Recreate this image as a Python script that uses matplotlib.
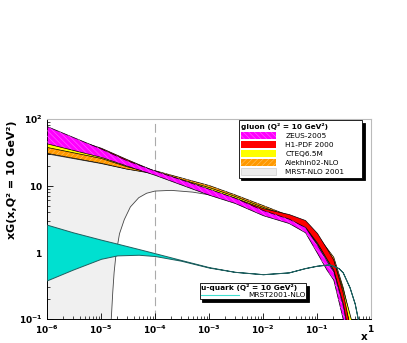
import numpy as np
import matplotlib.pyplot as plt
from matplotlib.patches import Patch
from matplotlib.lines import Line2D
from matplotlib.ticker import NullFormatter

plt.rcParams['font.family'] = 'DejaVu Sans'
plt.rcParams['mathtext.fontset'] = 'dejavusans'
plt.rcParams['hatch.linewidth'] = 0.35

# gluon bands (x, lower, upper)
xg = [1e-6, 1e-5, 3e-5, 1e-4, 1e-3, 3e-3, 1e-2, 3e-2, 6e-2, 0.1, 0.15, 0.2, 0.3, 0.4, 0.5, 0.7]
zeus_lo = [43, 27, 20, 14.5, 7.3, 5.5, 3.6, 2.75, 2.0, 0.98, 0.55, 0.39, 0.1, 0.025, 0.006, 0.001]
zeus_hi = [78, 36, 24, 16.8, 9.0, 6.6, 4.3, 3.2, 2.4, 1.3, 0.75, 0.52, 0.16, 0.045, 0.012, 0.002]
h1_lo = [48, 28, 21, 15.0, 7.5, 5.7, 3.8, 3.0, 2.4, 1.4, 0.8, 0.55, 0.17, 0.05, 0.015, 0.002]
h1_hi = [68, 37, 25, 16.6, 8.8, 6.6, 4.6, 3.75, 3.05, 1.95, 1.15, 0.78, 0.25, 0.08, 0.03, 0.004]
cteq_lo = [38, 26, 19.5, 15.3, 8.4, 6.2, 4.2, 3.1, 2.4, 1.35, 0.85, 0.6, 0.2, 0.085, 0.04, 0.005]
cteq_hi = [44, 29, 21.5, 16.3, 9.5, 7.0, 4.8, 3.5, 2.7, 1.6, 1.05, 0.75, 0.28, 0.12, 0.06, 0.008]
alek_lo = [31, 22, 18, 15.2, 8.9, 6.5, 4.4, 3.1, 2.4, 1.4, 0.85, 0.6, 0.2, 0.07, 0.025, 0.003]
alek_hi = [39, 27, 20.5, 17.0, 10.2, 7.4, 5.1, 3.6, 2.9, 1.8, 1.17, 0.86, 0.3, 0.11, 0.045, 0.005]
mrst_hi = [30, 21.5, 17.8, 15.5, 9.2, 6.9, 4.8, 3.4, 2.7, 1.6, 1.0, 0.75, 0.25, 0.09, 0.035, 0.003]

# MRST gluon lower edge has its own x points
xm = [1e-6, 1.45e-5, 1.55e-5, 1.65e-5, 1.75e-5, 1.9e-5, 2.2e-5, 2.7e-5, 3.5e-5, 5e-5, 7e-5,
      1e-4, 2e-4, 5e-4, 1e-3, 3e-3, 1e-2, 3e-2, 6e-2, 0.1, 0.15, 0.2, 0.3, 0.4, 0.5, 0.7]
mrst_lo = [0.01, 0.01, 0.1, 0.25, 0.5, 0.95, 1.9, 3.1, 4.8, 6.6, 7.7,
           8.3, 8.5, 8.0, 7.3, 6.0, 4.1, 2.95, 2.2, 1.3, 0.8, 0.55, 0.2, 0.07, 0.025, 0.002]

# u-quark band
xu = [1e-6, 3e-6, 1e-5, 2e-5, 5e-5, 1e-4, 3e-4, 1e-3, 3e-3, 1e-2, 3e-2, 6e-2, 0.1, 0.17,
      0.25, 0.3, 0.4, 0.5, 0.57, 0.65]
u_hi = [2.6, 2.0, 1.55, 1.35, 1.12, 0.97, 0.77, 0.6, 0.51, 0.47, 0.5, 0.58, 0.63, 0.66,
        0.58, 0.5, 0.3, 0.17, 0.1, 0.05]
u_lo = [0.38, 0.55, 0.8, 0.9, 0.92, 0.88, 0.75, 0.59, 0.51, 0.47, 0.5, 0.58, 0.63, 0.66,
        0.58, 0.5, 0.3, 0.17, 0.1, 0.05]

xticks = [1e-6, 1e-5, 1e-4, 1e-3, 1e-2, 1e-1, 1]
xlabels = [r'$\mathbf{10^{-6}}$', r'$\mathbf{10^{-5}}$', r'$\mathbf{10^{-4}}$', r'$\mathbf{10^{-3}}$',
           r'$\mathbf{10^{-2}}$', r'$\mathbf{10^{-1}}$', r'$\mathbf{1}$']
yticks = [0.1, 1, 10, 100]
ylabels = [r'$\mathbf{10^{-1}}$', r'$\mathbf{1}$', r'$\mathbf{10}$', r'$\mathbf{10^{2}}$']

gluon_names = ['ZEUS-2005', 'H1-PDF 2000', 'CTEQ6.5M', 'Alekhin02-NLO', 'MRST-NLO 2001']

fig = plt.figure(figsize=(4.07, 3.43), dpi=100)
ax = fig.add_axes([47 / 407, 1 - 319 / 343, 324 / 407, 200 / 343])
ax.set_xscale('log')
ax.set_yscale('log')


def band(x, lo, hi, face, edge='k', hatch=None, hcol=None, z=2):
    ax.fill_between(x, lo, hi, facecolor=face, edgecolor=edge, lw=0.5, zorder=z)
    if hatch:
        ax.fill_between(x, lo, hi, facecolor='none', edgecolor=hcol, hatch=hatch, lw=0, zorder=z)


# MRST gluon (grey)
ax.fill(np.concatenate([xg, xm[::-1]]), np.concatenate([mrst_hi, mrst_lo[::-1]]),
        facecolor='#f0f0f0', edgecolor='#444444', lw=0.6, zorder=1)

band(xg, alek_lo, alek_hi, '#ff9900', hatch='//////', hcol='#ffcc77', z=2)
band(xg, cteq_lo, cteq_hi, '#ffff00', z=3)
band(xg, h1_lo, h1_hi, '#ff0000', z=4)
band(xg, zeus_lo, zeus_hi, '#ff00ff', hatch='\\\\\\\\\\\\', hcol='#ff77ff', z=5)

# u-quark
ax.fill_between(xu, u_lo, u_hi, facecolor='#00e0d0', edgecolor='#1f5f5f', lw=0.7, zorder=6)

ax.axvline(1e-4, color='#aaaaaa', lw=0.8, dashes=(8, 4), zorder=0.5)

ax.set_xlim(1e-6, 1)
ax.set_ylim(0.1, 100)
ax.set_xticks(xticks, xlabels)
ax.set_yticks(yticks, ylabels)
ax.xaxis.set_minor_formatter(NullFormatter())
ax.yaxis.set_minor_formatter(NullFormatter())
ax.tick_params(which='both', direction='in', top=False, right=False, labelsize=6.5)
ax.tick_params(which='major', length=4.5, width=0.6)
ax.tick_params(which='minor', length=2.2, width=0.5)
ax.tick_params(axis='x', pad=3)
ax.tick_params(axis='y', pad=3)
for s in ['top', 'right']:
    ax.spines[s].set_color('#bbbbbb')
for s in ['bottom', 'left']:
    ax.spines[s].set_linewidth(0.7)

fig.text(12 / 407, 1 - 180 / 343, 'xG(x,Q² = 10 GeV²)', rotation=90, ha='center', va='center',
         fontsize=8, fontweight='bold')
fig.text(364 / 407, 1 - 337 / 343, 'x', ha='center', va='center', fontsize=7.5, fontweight='bold')

g_handles = [
    Patch(facecolor='#ff00ff', edgecolor='#ff77ff', hatch='\\\\\\\\\\\\', lw=0),
    Patch(facecolor='#ff0000', lw=0),
    Patch(facecolor='#ffff00', lw=0),
    Patch(facecolor='#ff9900', edgecolor='#ffcc77', hatch='//////', lw=0),
    Patch(facecolor='#ececec', edgecolor='#cccccc', lw=0.5),
]
shadow = {'color': 'k', 'alpha': 1}
leg1 = ax.legend(g_handles, gluon_names, title='gluon (Q² = 10 GeV²)',
                 loc='upper left', mode='expand',
                 bbox_to_anchor=(235 / 407, 1 - 120 / 343, 131 / 407, 0.01),
                 bbox_transform=fig.transFigure, fontsize=5.3,
                 title_fontproperties={'weight': 'bold', 'size': 5.3}, alignment='left',
                 handlelength=4.7, handleheight=1.0, handletextpad=1.3, labelspacing=0.3,
                 borderpad=0.35, fancybox=False, shadow=shadow,
                 edgecolor='k', framealpha=1)
leg1.get_frame().set_linewidth(0.6)
ax.add_artist(leg1)

u_handles = [Line2D([], [], color='#40e0d0', lw=0.8)]
leg2 = ax.legend(u_handles, ['MRST2001-NLO'], title='u-quark (Q² = 10 GeV²)',
                 loc='upper left', mode='expand',
                 bbox_to_anchor=(196 / 407, 1 - 283 / 343, 114 / 407, 0.01),
                 bbox_transform=fig.transFigure, fontsize=5.3,
                 title_fontproperties={'weight': 'bold', 'size': 5.3}, alignment='left',
                 handlelength=5.2, handletextpad=1.3, labelspacing=0.1,
                 borderpad=0.15, fancybox=False, shadow=shadow,
                 edgecolor='k', framealpha=1)
leg2.get_frame().set_linewidth(0.6)
leg2.set_zorder(10)
leg1.set_zorder(10)

fig.savefig('out.png', dpi=100)
